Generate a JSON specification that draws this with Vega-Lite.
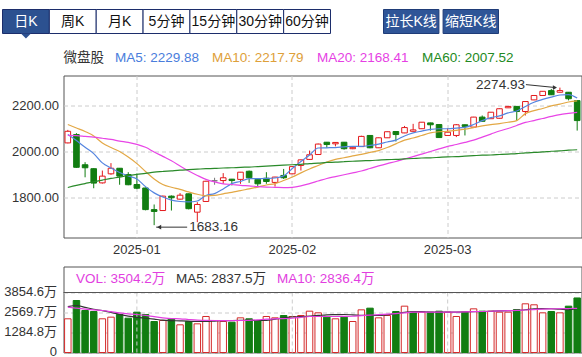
{
"$schema": "https://vega.github.io/schema/vega-lite/v6.json",
"padding": {"left": 1.5, "top": 8.5, "right": 0, "bottom": 0},
"bounds": "flush",
"spacing": 29,
"config": {
  "font": "Liberation Sans, Noto Sans CJK SC",
  "view": {"stroke": "#555555"},
  "axis": {"labelFont": "Liberation Sans, Noto Sans CJK SC", "labelFontSize": 13, "labelColor": "#333333", "ticks": false, "domain": false, "gridColor": "#cccccc", "gridDash": [4, 3], "gridWidth": 1, "labelOverlap": false},
  "legend": {"labelFont": "Liberation Sans, Noto Sans CJK SC", "titleFont": "Liberation Sans, Noto Sans CJK SC"}
},
"resolve": {"scale": {"stroke": "independent"}, "legend": {"stroke": "independent"}},
"datasets": {
  "tabs": [{"t": "日K"}, {"t": "周K"}, {"t": "月K"}, {"t": "5分钟"}, {"t": "15分钟"}, {"t": "30分钟"}, {"t": "60分钟"}],
  "btns": [{"t": "拉长K线"}, {"t": "缩短K线"}],
  "months": [{"d": "2025-01-02"}, {"d": "2025-02-05"}, {"d": "2025-03-03"}],
  "ann": [{"d": "2025-03-20", "v": 2274.93, "t": "2274.93", "k": "hi"}, {"d": "2025-01-06", "v": 1683.16, "t": "1683.16", "k": "lo"}],
  "k": [
{"d":"2024-12-20","o":2037,"h":2093,"l":2035,"c":2087,"chg":30,"v":2165,"ma5":2073,"ma10":2116,"ma20":2069,"ma60":1845,"vma5":2950,"vma10":2910},
{"d":"2024-12-23","o":2073,"h":2079,"l":1930,"c":1932,"chg":-155,"v":3340,"ma5":2047,"ma10":2101,"ma20":2068,"ma60":1854,"vma5":3019,"vma10":2850},
{"d":"2024-12-24","o":1943,"h":1954,"l":1889,"c":1930,"chg":-2,"v":2698,"ma5":2018,"ma10":2086,"ma20":2065,"ma60":1862,"vma5":2900,"vma10":2790},
{"d":"2024-12-25","o":1926,"h":1928,"l":1842,"c":1864,"chg":-66,"v":2634,"ma5":1991,"ma10":2067,"ma20":2062,"ma60":1870,"vma5":2780,"vma10":2740},
{"d":"2024-12-26","o":1865,"h":1918,"l":1862,"c":1894,"chg":30,"v":2165,"ma5":1951,"ma10":2037,"ma20":2057,"ma60":1877,"vma5":2690,"vma10":2698},
{"d":"2024-12-27","o":1904,"h":1950,"l":1900,"c":1928,"chg":34,"v":2270,"ma5":1929,"ma10":2017,"ma20":2052,"ma60":1884,"vma5":2580,"vma10":2620},
{"d":"2024-12-30","o":1928,"h":1929,"l":1857,"c":1894,"chg":-34,"v":2441,"ma5":1910,"ma10":2000,"ma20":2045,"ma60":1890,"vma5":2450,"vma10":2540},
{"d":"2024-12-31","o":1901,"h":1911,"l":1855,"c":1857,"chg":-37,"v":2205,"ma5":1895,"ma10":1976,"ma20":2039,"ma60":1897,"vma5":2340,"vma10":2480},
{"d":"2025-01-02","o":1858,"h":1905,"l":1838,"c":1842,"chg":-15,"v":2591,"ma5":1882,"ma10":1948,"ma20":2031,"ma60":1902,"vma5":2260,"vma10":2441},
{"d":"2025-01-03","o":1843,"h":1845,"l":1747,"c":1750,"chg":-92,"v":2441,"ma5":1849,"ma10":1914,"ma20":2018,"ma60":1906,"vma5":2200,"vma10":2380},
{"d":"2025-01-06","o":1750,"h":1772,"l":1683.16,"c":1742,"chg":-8,"v":1991,"ma5":1822,"ma10":1882,"ma20":1998,"ma60":1911,"vma5":2140,"vma10":2300},
{"d":"2025-01-07","o":1746,"h":1810,"l":1744,"c":1808,"chg":66,"v":2056,"ma5":1804,"ma10":1858,"ma20":1979,"ma60":1914,"vma5":2080,"vma10":2230},
{"d":"2025-01-08","o":1808,"h":1811,"l":1746,"c":1801,"chg":-7,"v":2165,"ma5":1791,"ma10":1846,"ma20":1960,"ma60":1917,"vma5":2050,"vma10":2180},
{"d":"2025-01-09","o":1795,"h":1821,"l":1793,"c":1812,"chg":11,"v":1778,"ma5":1785,"ma10":1837,"ma20":1938,"ma60":1920,"vma5":2030,"vma10":2165},
{"d":"2025-01-10","o":1818,"h":1819,"l":1751,"c":1754,"chg":-58,"v":1991,"ma5":1783,"ma10":1826,"ma20":1916,"ma60":1922,"vma5":2010,"vma10":2120},
{"d":"2025-01-13","o":1739,"h":1782,"l":1696,"c":1772,"chg":18,"v":1842,"ma5":1787,"ma10":1816,"ma20":1897,"ma60":1924,"vma5":1995,"vma10":2080},
{"d":"2025-01-14","o":1785,"h":1874,"l":1784,"c":1872,"chg":100,"v":2313,"ma5":1811,"ma10":1809,"ma20":1880,"ma60":1926,"vma5":2000,"vma10":2060},
{"d":"2025-01-15","o":1874,"h":1887,"l":1857,"c":1874,"chg":2,"v":2056,"ma5":1819,"ma10":1811,"ma20":1869,"ma60":1927,"vma5":2020,"vma10":2056},
{"d":"2025-01-16","o":1875,"h":1907,"l":1861,"c":1887,"chg":13,"v":1991,"ma5":1839,"ma10":1818,"ma20":1861,"ma60":1929,"vma5":2040,"vma10":2050},
{"d":"2025-01-17","o":1881,"h":1882,"l":1854,"c":1875,"chg":-12,"v":1949,"ma5":1862,"ma10":1824,"ma20":1858,"ma60":1930,"vma5":2056,"vma10":2050},
{"d":"2025-01-20","o":1880,"h":1912,"l":1861,"c":1911,"chg":36,"v":2227,"ma5":1871,"ma10":1832,"ma20":1854,"ma60":1932,"vma5":2060,"vma10":2056},
{"d":"2025-01-21","o":1915,"h":1918,"l":1865,"c":1887,"chg":-24,"v":2165,"ma5":1883,"ma10":1839,"ma20":1852,"ma60":1933,"vma5":2060,"vma10":2070},
{"d":"2025-01-22","o":1880,"h":1881,"l":1846,"c":1861,"chg":-26,"v":2056,"ma5":1883,"ma10":1847,"ma20":1849,"ma60":1935,"vma5":2056,"vma10":2100},
{"d":"2025-01-23","o":1885,"h":1911,"l":1861,"c":1871,"chg":10,"v":2313,"ma5":1884,"ma10":1856,"ma20":1847,"ma60":1937,"vma5":2060,"vma10":2140},
{"d":"2025-01-24","o":1867,"h":1891,"l":1849,"c":1890,"chg":19,"v":2227,"ma5":1886,"ma10":1862,"ma20":1846,"ma60":1939,"vma5":2150,"vma10":2165},
{"d":"2025-01-27","o":1897,"h":1925,"l":1882,"c":1887,"chg":-3,"v":2377,"ma5":1895,"ma10":1875,"ma20":1845,"ma60":1941,"vma5":2230,"vma10":2180},
{"d":"2025-02-05","o":1904,"h":1936,"l":1903,"c":1935,"chg":48,"v":2313,"ma5":1927,"ma10":1890,"ma20":1846,"ma60":1943,"vma5":2280,"vma10":2200},
{"d":"2025-02-06","o":1940,"h":1965,"l":1918,"c":1964,"chg":29,"v":2377,"ma5":1957,"ma10":1908,"ma20":1852,"ma60":1945,"vma5":2300,"vma10":2260},
{"d":"2025-02-07","o":1966,"h":2004,"l":1964,"c":1986,"chg":22,"v":2655,"ma5":1985,"ma10":1925,"ma20":1862,"ma60":1948,"vma5":2340,"vma10":2313},
{"d":"2025-02-10","o":1987,"h":2034,"l":1985,"c":2032,"chg":46,"v":2548,"ma5":2015,"ma10":1940,"ma20":1873,"ma60":1950,"vma5":2380,"vma10":2313},
{"d":"2025-02-11","o":2040,"h":2041,"l":2016,"c":2030,"chg":-2,"v":2270,"ma5":2016,"ma10":1955,"ma20":1884,"ma60":1953,"vma5":2420,"vma10":2313},
{"d":"2025-02-12","o":2033,"h":2040,"l":2022,"c":2039,"chg":9,"v":2165,"ma5":2017,"ma10":1966,"ma20":1892,"ma60":1954,"vma5":2430,"vma10":2313},
{"d":"2025-02-13","o":2040,"h":2041,"l":2008,"c":2012,"chg":-27,"v":2270,"ma5":2020,"ma10":1973,"ma20":1900,"ma60":1956,"vma5":2440,"vma10":2320},
{"d":"2025-02-14","o":2012,"h":2019,"l":2010,"c":2018,"chg":6,"v":1991,"ma5":2022,"ma10":1981,"ma20":1908,"ma60":1958,"vma5":2420,"vma10":2330},
{"d":"2025-02-17","o":2021,"h":2068,"l":2020,"c":2065,"chg":47,"v":2741,"ma5":2022,"ma10":1988,"ma20":1916,"ma60":1960,"vma5":2390,"vma10":2370},
{"d":"2025-02-18","o":2069,"h":2070,"l":2014,"c":2016,"chg":-49,"v":2848,"ma5":2026,"ma10":1996,"ma20":1927,"ma60":1961,"vma5":2380,"vma10":2400},
{"d":"2025-02-19","o":2016,"h":2060,"l":2015,"c":2059,"chg":43,"v":2227,"ma5":2032,"ma10":2004,"ma20":1938,"ma60":1963,"vma5":2377,"vma10":2430},
{"d":"2025-02-20","o":2059,"h":2086,"l":2058,"c":2085,"chg":26,"v":2377,"ma5":2041,"ma10":2017,"ma20":1948,"ma60":1965,"vma5":2420,"vma10":2460},
{"d":"2025-02-21","o":2086,"h":2087,"l":2043,"c":2073,"chg":-12,"v":2634,"ma5":2049,"ma10":2033,"ma20":1957,"ma60":1966,"vma5":2500,"vma10":2500},
{"d":"2025-02-24","o":2080,"h":2110,"l":2079,"c":2103,"chg":30,"v":2977,"ma5":2067,"ma10":2049,"ma20":1968,"ma60":1968,"vma5":2580,"vma10":2550},
{"d":"2025-02-25","o":2087,"h":2119,"l":2086,"c":2093,"chg":-10,"v":2591,"ma5":2080,"ma10":2058,"ma20":1978,"ma60":1970,"vma5":2630,"vma10":2591},
{"d":"2025-02-26","o":2098,"h":2127,"l":2097,"c":2126,"chg":33,"v":2591,"ma5":2088,"ma10":2069,"ma20":1989,"ma60":1972,"vma5":2620,"vma10":2591},
{"d":"2025-02-27","o":2123,"h":2124,"l":2090,"c":2115,"chg":-11,"v":2591,"ma5":2095,"ma10":2080,"ma20":2000,"ma60":1973,"vma5":2600,"vma10":2591},
{"d":"2025-02-28","o":2116,"h":2117,"l":2058,"c":2060,"chg":-55,"v":2655,"ma5":2098,"ma10":2085,"ma20":2011,"ma60":1975,"vma5":2595,"vma10":2591},
{"d":"2025-03-03","o":2069,"h":2100,"l":2068,"c":2083,"chg":23,"v":2591,"ma5":2098,"ma10":2087,"ma20":2022,"ma60":1977,"vma5":2591,"vma10":2591},
{"d":"2025-03-04","o":2069,"h":2118,"l":2062,"c":2115,"chg":32,"v":2313,"ma5":2101,"ma10":2091,"ma20":2030,"ma60":1978,"vma5":2600,"vma10":2600},
{"d":"2025-03-05","o":2115,"h":2116,"l":2069,"c":2108,"chg":-7,"v":2591,"ma5":2104,"ma10":2096,"ma20":2039,"ma60":1980,"vma5":2610,"vma10":2610},
{"d":"2025-03-06","o":2105,"h":2149,"l":2104,"c":2148,"chg":40,"v":2805,"ma5":2116,"ma10":2103,"ma20":2049,"ma60":1982,"vma5":2620,"vma10":2620},
{"d":"2025-03-07","o":2148,"h":2155,"l":2129,"c":2130,"chg":-18,"v":2655,"ma5":2133,"ma10":2110,"ma20":2062,"ma60":1984,"vma5":2634,"vma10":2634},
{"d":"2025-03-10","o":2141,"h":2170,"l":2140,"c":2169,"chg":39,"v":2655,"ma5":2146,"ma10":2116,"ma20":2075,"ma60":1985,"vma5":2650,"vma10":2650},
{"d":"2025-03-11","o":2143,"h":2185,"l":2142,"c":2184,"chg":15,"v":2591,"ma5":2153,"ma10":2120,"ma20":2088,"ma60":1987,"vma5":2670,"vma10":2670},
{"d":"2025-03-12","o":2188,"h":2195,"l":2187,"c":2194,"chg":10,"v":2591,"ma5":2166,"ma10":2126,"ma20":2099,"ma60":1989,"vma5":2690,"vma10":2690},
{"d":"2025-03-13","o":2194,"h":2195,"l":2133,"c":2172,"chg":-22,"v":2762,"ma5":2174,"ma10":2133,"ma20":2112,"ma60":1991,"vma5":2700,"vma10":2700},
{"d":"2025-03-14","o":2172,"h":2216,"l":2155,"c":2215,"chg":43,"v":3127,"ma5":2194,"ma10":2163,"ma20":2125,"ma60":1994,"vma5":2745,"vma10":2730},
{"d":"2025-03-17","o":2222,"h":2242,"l":2221,"c":2241,"chg":26,"v":3064,"ma5":2212,"ma10":2176,"ma20":2133,"ma60":1996,"vma5":2800,"vma10":2760},
{"d":"2025-03-18","o":2241,"h":2260,"l":2240,"c":2259,"chg":18,"v":2548,"ma5":2224,"ma10":2185,"ma20":2142,"ma60":1998,"vma5":2818,"vma10":2790},
{"d":"2025-03-19","o":2262,"h":2269,"l":2243,"c":2244,"chg":-15,"v":2634,"ma5":2234,"ma10":2196,"ma20":2151,"ma60":2001,"vma5":2810,"vma10":2805},
{"d":"2025-03-20","o":2255,"h":2274.93,"l":2254,"c":2262,"chg":18,"v":2548,"ma5":2243,"ma10":2204,"ma20":2159,"ma60":2003,"vma5":2784,"vma10":2815},
{"d":"2025-03-21","o":2255,"h":2256,"l":2220,"c":2227,"chg":-35,"v":2977,"ma5":2245,"ma10":2213,"ma20":2164,"ma60":2006,"vma5":2754,"vma10":2825},
{"d":"2025-03-24","o":2219,"h":2220,"l":2090,"c":2133,"chg":-94,"v":3504.2,"ma5":2229.88,"ma10":2217.79,"ma20":2168.41,"ma60":2007.52,"vma5":2837.5,"vma10":2836.4}
  ]
},
"vconcat": [
  {
    "width": 518, "height": 37,
    "view": {"stroke": null},
    "resolve": {"scale": {"x": "independent"}},
    "layer": [
      {
        "data": {"name": "tabs"},
        "encoding": {
          "x": {"field": "t", "type": "nominal", "sort": null, "axis": null, "scale": {"range": [-61, 267], "paddingInner": 0, "paddingOuter": 0}},
          "y": {"datum": "r", "type": "nominal", "axis": null, "scale": {"domain": ["r"], "paddingInner": 0, "paddingOuter": 0.2708, "align": 0}}
        },
        "layer": [
          {"mark": {"type": "rect", "stroke": "#1c2d6b", "strokeWidth": 1},
           "encoding": {"fill": {"condition": {"test": "datum.t == '日K'", "value": "#2c5190"}, "value": "#ffffff"}}},
          {"mark": {"type": "text", "fontSize": 14, "font": "Liberation Sans, Noto Sans CJK SC"},
           "encoding": {"text": {"field": "t"}, "color": {"condition": {"test": "datum.t == '日K'", "value": "#ffffff"}, "value": "#111111"}}},
          {"transform": [{"filter": "datum.t == '日K'"}],
           "mark": {"type": "point", "shape": "M-1,-0.5L1,-0.5L0,0.5Z", "size": 100, "filled": true, "color": "#2c5190", "opacity": 1, "yOffset": 2.5},
           "encoding": {"y": {"datum": "r", "type": "nominal", "bandPosition": 1}}}
        ]
      },
      {
        "data": {"name": "btns"},
        "encoding": {
          "x": {"field": "t", "type": "nominal", "sort": null, "axis": null, "scale": {"range": [320, 435], "paddingInner": 0.07, "paddingOuter": 0}},
          "y": {"datum": "r", "type": "nominal", "axis": null, "scale": {"domain": ["r"], "paddingInner": 0, "paddingOuter": 0.2708, "align": 0}}
        },
        "layer": [
          {"mark": {"type": "rect", "fill": "#2f5597", "stroke": "#1f3c78", "strokeWidth": 1}},
          {"mark": {"type": "text", "fontSize": 14, "color": "#ffffff", "font": "Liberation Sans, Noto Sans CJK SC"}, "encoding": {"text": {"field": "t"}}}
        ]
      }
    ]
  },
  {
    "width": 518, "height": 162,
    "data": {"name": "k"},
    "layer": [
      {"mark": {"type": "rule", "strokeWidth": 1},
       "encoding": {
         "x": {"field": "d", "type": "ordinal", "scale": {"paddingInner": 0, "paddingOuter": 0},
               "axis": {"values": ["2025-01-02", "2025-02-05", "2025-03-03"], "labelExpr": "slice(datum.value, 0, 7)", "grid": true, "labelAngle": 0, "labelPadding": 6, "title": null}},
         "y": {"field": "l", "type": "quantitative", "scale": {"domain": [1630, 2327], "zero": false, "nice": false},
               "axis": {"values": [1800, 2000, 2200], "format": ".2f", "grid": true, "labelPadding": 5, "title": null}},
         "y2": {"field": "h"},
         "color": {"condition": [{"test": "datum.c > datum.o", "value": "#e3191c"}, {"test": "datum.c < datum.o", "value": "#117d11"}], "value": "#777777"}
       }},
      {"mark": {"type": "bar", "width": {"band": 0.65}, "strokeWidth": 1},
       "encoding": {
         "x": {"field": "d", "type": "ordinal"},
         "y": {"field": "o", "type": "quantitative", "title": null},
         "y2": {"field": "c"},
         "fill": {"condition": [{"test": "datum.c > datum.o", "value": "#ffffff"}, {"test": "datum.c < datum.o", "value": "#117d11"}], "value": "#777777"},
         "stroke": {"condition": [{"test": "datum.c > datum.o", "value": "#e3191c"}, {"test": "datum.c < datum.o", "value": "#117d11"}], "value": "#777777"}
       }},
      {"transform": [{"fold": ["ma5", "ma10", "ma20", "ma60"], "as": ["key", "val"]}],
       "mark": {"type": "line", "interpolate": "monotone", "strokeWidth": 1.2},
       "encoding": {
         "x": {"field": "d", "type": "ordinal"},
         "y": {"field": "val", "type": "quantitative", "title": null},
         "stroke": {"field": "key", "type": "nominal",
           "scale": {"domain": ["ma5", "ma10", "ma20", "ma60"], "range": ["#5585e0", "#e3a845", "#e845e6", "#2a8a2a"]},
           "legend": {"orient": "none", "legendX": 0, "legendY": -25, "direction": "horizontal", "columns": 4,
             "title": "微盘股", "titleOrient": "left", "titleFontSize": 13.5, "titleFontWeight": "normal", "titleColor": "#333333", "titlePadding": 11, "titleBaseline": "middle", "titleAnchor": "middle",
             "labelFontSize": 13.5, "labelOffset": -14, "columnPadding": 12, "padding": 0,
             "symbolSize": 0, "symbolOpacity": 0, "symbolStrokeWidth": 0,
             "labelExpr": "datum.value == 'ma5' ? 'MA5: 2229.88' : datum.value == 'ma10' ? 'MA10: 2217.79' : datum.value == 'ma20' ? 'MA20: 2168.41' : 'MA60: 2007.52'",
             "labelColor": {"expr": "datum.value == 'ma5' ? '#4a7ddc' : datum.value == 'ma10' ? '#dea03a' : datum.value == 'ma20' ? '#e63fe4' : '#238a23'"}}
         }
       }},
      {"data": {"name": "ann"}, "transform": [{"filter": "datum.k == 'hi'"}],
       "mark": {"type": "rule", "color": "#333333", "strokeWidth": 1, "xOffset": -4, "x2Offset": -34, "y2Offset": -3},
       "encoding": {"x": {"field": "d", "type": "ordinal"}, "x2": {"field": "d"}, "y": {"field": "v", "type": "quantitative"}, "y2": {"field": "v"}}},
      {"data": {"name": "ann"}, "transform": [{"filter": "datum.k == 'hi'"}],
       "mark": {"type": "point", "shape": "triangle-right", "size": 22, "filled": true, "color": "#333333", "opacity": 1, "xOffset": -5},
       "encoding": {"x": {"field": "d", "type": "ordinal"}, "y": {"field": "v", "type": "quantitative"}}},
      {"data": {"name": "ann"}, "transform": [{"filter": "datum.k == 'hi'"}],
       "mark": {"type": "text", "align": "right", "baseline": "middle", "dx": -35, "dy": -3, "fontSize": 13.5, "color": "#333333"},
       "encoding": {"x": {"field": "d", "type": "ordinal"}, "y": {"field": "v", "type": "quantitative"}, "text": {"field": "t"}}},
      {"data": {"name": "ann"}, "transform": [{"filter": "datum.k == 'lo'"}],
       "mark": {"type": "rule", "color": "#333333", "strokeWidth": 1, "xOffset": 2, "x2Offset": 33, "yOffset": 2, "y2Offset": 2},
       "encoding": {"x": {"field": "d", "type": "ordinal"}, "x2": {"field": "d"}, "y": {"field": "v", "type": "quantitative"}, "y2": {"field": "v"}}},
      {"data": {"name": "ann"}, "transform": [{"filter": "datum.k == 'lo'"}],
       "mark": {"type": "point", "shape": "triangle-left", "size": 22, "filled": true, "color": "#333333", "opacity": 1, "xOffset": 5, "yOffset": 2},
       "encoding": {"x": {"field": "d", "type": "ordinal"}, "y": {"field": "v", "type": "quantitative"}}},
      {"data": {"name": "ann"}, "transform": [{"filter": "datum.k == 'lo'"}],
       "mark": {"type": "text", "align": "left", "baseline": "middle", "dx": 35, "dy": 2, "fontSize": 13.5, "color": "#333333"},
       "encoding": {"x": {"field": "d", "type": "ordinal"}, "y": {"field": "v", "type": "quantitative"}, "text": {"field": "t"}}}
    ]
  },
  {
    "width": 518, "height": 86,
    "data": {"name": "k"},
    "layer": [
      {"mark": {"type": "bar", "width": {"band": 0.75}, "strokeWidth": 1},
       "encoding": {
         "x": {"field": "d", "type": "ordinal", "scale": {"paddingInner": 0, "paddingOuter": 0}, "axis": null},
         "y": {"field": "v", "type": "quantitative", "scale": {"domain": [0, 5525], "nice": false},
               "axis": {"values": [0, 1284.8, 2569.7, 3854.6], "labelExpr": "datum.value == 0 ? '0' : format(datum.value, '.1f') + '万'", "grid": true, "labelPadding": 7, "labelOffset": -1, "labelOverlap": false, "title": null}},
         "fill": {"condition": {"test": "datum.chg >= 0", "value": "#ffffff"}, "value": "#117d11"},
         "stroke": {"condition": {"test": "datum.chg >= 0", "value": "#d42a2a"}, "value": "#117d11"}
       }},
      {"data": {"name": "months"},
       "mark": {"type": "rule", "strokeDash": [4, 3], "color": "#cccccc", "strokeWidth": 1},
       "encoding": {
         "x": {"field": "d", "type": "ordinal"},
         "y": {"datum": 0, "type": "quantitative",
               "axis": {"values": [0, 1284.8, 2569.7, 3854.6], "labelExpr": "datum.value == 0 ? '0' : format(datum.value, '.1f') + '万'", "grid": true, "labelPadding": 7, "labelOffset": -1, "labelOverlap": false, "title": null}},
         "y2": {"datum": 3854.6}
       }},
      {"transform": [{"fold": ["vma5", "vma10"], "as": ["key", "val"]}],
       "mark": {"type": "line", "interpolate": "monotone", "strokeWidth": 1.2},
       "encoding": {
         "x": {"field": "d", "type": "ordinal"},
         "y": {"field": "val", "type": "quantitative",
               "axis": {"values": [0, 1284.8, 2569.7, 3854.6], "labelExpr": "datum.value == 0 ? '0' : format(datum.value, '.1f') + '万'", "grid": true, "labelPadding": 7, "labelOffset": -1, "labelOverlap": false, "title": null}},
         "stroke": {"field": "key", "type": "nominal",
           "scale": {"domain": ["VOL", "vma5", "vma10"], "range": ["#e23ee0", "#333333", "#e23ee0"]},
           "legend": {"orient": "none", "legendX": 13, "legendY": 5, "direction": "horizontal", "columns": 3, "title": null,
             "labelFontSize": 13.5, "labelOffset": -14, "columnPadding": 10, "padding": 0,
             "symbolSize": 0, "symbolOpacity": 0, "symbolStrokeWidth": 0,
             "labelExpr": "datum.value == 'VOL' ? 'VOL: 3504.2万' : datum.value == 'vma5' ? 'MA5: 2837.5万' : 'MA10: 2836.4万'",
             "labelColor": {"expr": "datum.value == 'vma5' ? '#333333' : '#e23ee0'"}}
         }
       }},
      {"data": {"values": [{}]},
       "mark": {"type": "rule", "color": "#555555", "strokeWidth": 1},
       "encoding": {"y": {"datum": 3854.6, "type": "quantitative",
               "axis": {"values": [0, 1284.8, 2569.7, 3854.6], "labelExpr": "datum.value == 0 ? '0' : format(datum.value, '.1f') + '万'", "grid": true, "labelPadding": 7, "labelOffset": -1, "labelOverlap": false, "title": null}}}}
    ]
  }
]
}
